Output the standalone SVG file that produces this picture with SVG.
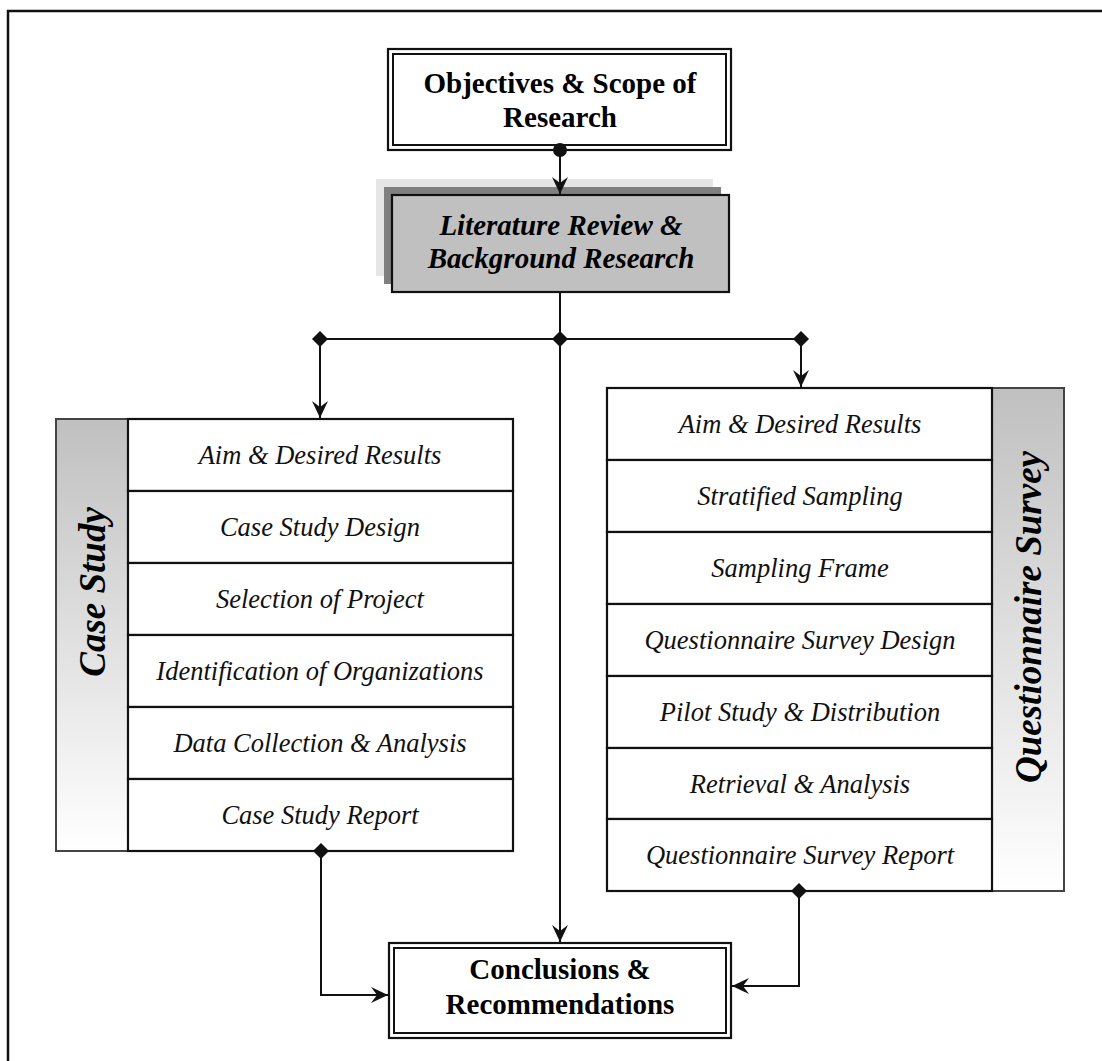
<svg xmlns="http://www.w3.org/2000/svg" width="1102" height="1061" viewBox="0 0 1102 1061">
  <style>
    .title { font-family: "Liberation Serif", "Times New Roman", serif; font-weight: bold; font-size: 29px; fill: #000; text-anchor: middle; }
    .titleItalic { font-family: "Liberation Serif", "Times New Roman", serif; font-weight: bold; font-style: italic; font-size: 29px; fill: #000; text-anchor: middle; }
    .row { font-family: "Liberation Serif", "Times New Roman", serif; font-style: italic; font-size: 26.5px; fill: #111; text-anchor: middle; }
    .header { font-family: "Liberation Serif", "Times New Roman", serif; font-weight: bold; font-style: italic; font-size: 37px; fill: #000; text-anchor: middle; }
    .cell { fill: #fff; stroke: #111; stroke-width: 2.2; }
    .side { stroke: #444; stroke-width: 2; }
    .frameOuter { fill: #fff; stroke: #111; stroke-width: 2.2; }
    .frameInner { fill: none; stroke: #111; stroke-width: 2; }
    .wire { fill: none; stroke: #111; stroke-width: 2; }
    .knot { fill: #111; }
  </style>
  <defs>
    <linearGradient id="sideFill" x1="0" y1="0" x2="0" y2="1">
      <stop offset="0" stop-color="#c0c0c0"/>
      <stop offset="1" stop-color="#ffffff"/>
    </linearGradient>
    <marker id="arrow" viewBox="-18 -9 19 18" refX="0" refY="0" markerWidth="19" markerHeight="18" markerUnits="userSpaceOnUse" orient="auto">
      <path d="M0,0 L-17,-8 L-11,0 L-17,8 Z" fill="#111"/>
    </marker>
    <path id="diamondShape" d="M0,-8 L8,0 L0,8 L-8,0 Z"/>
  </defs>

  <!-- page frame (runs off the right and bottom edges) -->
  <rect x="8" y="11" width="1120" height="1080" fill="#fff" stroke="#111" stroke-width="2.5"/>

  <!-- top node -->
  <g id="objectives">
    <rect class="frameOuter" x="388" y="49" width="343" height="101"/>
    <rect class="frameInner" x="393" y="54" width="333" height="91"/>
    <text class="title" x="560" y="93">Objectives &amp; Scope of</text>
    <text class="title" x="560" y="127">Research</text>
  </g>

  <!-- literature review node with stacked shadows -->
  <g id="literature">
    <rect x="376" y="179" width="337" height="97" fill="#e6e6e6"/>
    <rect x="384" y="187" width="337" height="97" fill="#808080"/>
    <rect x="392" y="195" width="337" height="97" fill="#c0c0c0" stroke="#111" stroke-width="2.2"/>
    <text class="titleItalic" x="561" y="235">Literature Review &amp;</text>
    <text class="titleItalic" x="561" y="268">Background Research</text>
  </g>

  <!-- case study column -->
  <g id="case-study">
    <rect class="side" x="56" y="419" width="72" height="432" fill="url(#sideFill)"/>
    <text class="header" transform="translate(105,592) rotate(-90)">Case Study</text>
    <rect class="cell" x="128" y="419" width="385" height="72"/>
    <rect class="cell" x="128" y="491" width="385" height="72"/>
    <rect class="cell" x="128" y="563" width="385" height="72"/>
    <rect class="cell" x="128" y="635" width="385" height="72"/>
    <rect class="cell" x="128" y="707" width="385" height="72"/>
    <rect class="cell" x="128" y="779" width="385" height="72"/>
    <text class="row" x="320" y="464">Aim &amp; Desired Results</text>
    <text class="row" x="320" y="536">Case Study Design</text>
    <text class="row" x="320" y="608">Selection of Project</text>
    <text class="row" x="320" y="680">Identification of Organizations</text>
    <text class="row" x="320" y="752">Data Collection &amp; Analysis</text>
    <text class="row" x="320" y="824">Case Study Report</text>
  </g>

  <!-- questionnaire survey column -->
  <g id="questionnaire-survey">
    <rect class="side" x="992" y="388" width="72" height="503" fill="url(#sideFill)"/>
    <text class="header" transform="translate(1041,617) rotate(-90)">Questionnaire Survey</text>
    <rect class="cell" x="607" y="388" width="385" height="72"/>
    <rect class="cell" x="607" y="460" width="385" height="72"/>
    <rect class="cell" x="607" y="532" width="385" height="72"/>
    <rect class="cell" x="607" y="604" width="385" height="72"/>
    <rect class="cell" x="607" y="676" width="385" height="72"/>
    <rect class="cell" x="607" y="748" width="385" height="71"/>
    <rect class="cell" x="607" y="819" width="385" height="72"/>
    <text class="row" x="800" y="433">Aim &amp; Desired Results</text>
    <text class="row" x="800" y="505">Stratified Sampling</text>
    <text class="row" x="800" y="577">Sampling Frame</text>
    <text class="row" x="800" y="649">Questionnaire Survey Design</text>
    <text class="row" x="800" y="721">Pilot Study &amp; Distribution</text>
    <text class="row" x="800" y="793">Retrieval &amp; Analysis</text>
    <text class="row" x="800" y="864">Questionnaire Survey Report</text>
  </g>

  <!-- conclusions node -->
  <g id="conclusions">
    <rect class="frameOuter" x="389" y="943" width="342" height="95"/>
    <rect class="frameInner" x="394" y="948" width="332" height="85"/>
    <text class="title" x="560" y="979">Conclusions &amp;</text>
    <text class="title" x="560" y="1014">Recommendations</text>
  </g>

  <!-- connectors, drawn last so they sit on top of the shadows -->
  <g id="connectors">
    <path class="wire" d="M560,150 L560,194" marker-end="url(#arrow)"/>
    <path class="wire" d="M560,292 L560,942" marker-end="url(#arrow)"/>
    <path class="wire" d="M320,339 L801,339"/>
    <path class="wire" d="M320,339 L320,418" marker-end="url(#arrow)"/>
    <path class="wire" d="M801,339 L801,387" marker-end="url(#arrow)"/>
    <path class="wire" d="M321,851 L321,995 L388,995" marker-end="url(#arrow)"/>
    <path class="wire" d="M799,891 L799,986 L732,986" marker-end="url(#arrow)"/>
    <circle class="knot" cx="560" cy="150" r="7"/>
    <use class="knot" href="#diamondShape" x="320" y="339"/>
    <use class="knot" href="#diamondShape" x="560" y="339"/>
    <use class="knot" href="#diamondShape" x="801" y="339"/>
    <use class="knot" href="#diamondShape" x="321" y="851"/>
    <use class="knot" href="#diamondShape" x="799" y="891"/>
  </g>
</svg>
